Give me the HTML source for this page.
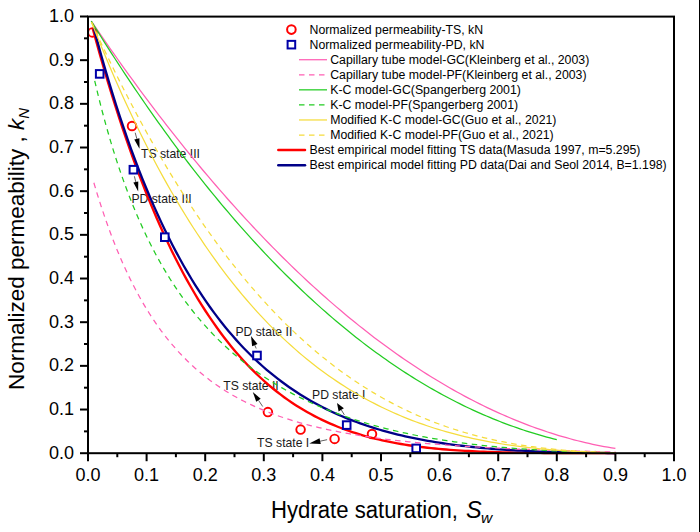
<!DOCTYPE html>
<html><head><meta charset="utf-8"><style>
html,body{margin:0;padding:0;background:#fff;width:700px;height:532px;overflow:hidden;}
svg{position:absolute;left:0;top:0;font-family:"Liberation Sans",sans-serif;}
</style></head><body>
<svg width="700" height="532" viewBox="0 0 700 532">
<rect x="0" y="0" width="700" height="532" fill="#fff"/>
<line x1="699.5" y1="0" x2="699.5" y2="532" stroke="#000" stroke-width="1"/>
<g>
<line x1="135.2" y1="132.7" x2="136.85" y2="138.85" stroke="#444" stroke-width="0.85"/><polygon points="139.5,148.7 134.25,139.55 139.46,138.15" fill="#000"/>
<line x1="134.4" y1="176.3" x2="135.81" y2="181.99" stroke="#444" stroke-width="0.85"/><polygon points="138.2,191.6 133.39,182.59 138.24,181.39" fill="#000"/>
<line x1="256.2" y1="348.5" x2="254.81" y2="345.14" stroke="#444" stroke-width="0.85"/><polygon points="251.0,335.9 257.50,344.04 252.13,346.25" fill="#000"/>
<line x1="262.7" y1="406.5" x2="258.47" y2="400.26" stroke="#444" stroke-width="0.85"/><polygon points="252.8,391.9 260.70,398.74 256.23,401.77" fill="#000"/>
<line x1="344.4" y1="414.9" x2="341.22" y2="409.79" stroke="#444" stroke-width="0.85"/><polygon points="337.0,403.0 343.86,408.16 338.59,411.43" fill="#000"/>
<line x1="327.1" y1="439.7" x2="320.16" y2="441.18" stroke="#444" stroke-width="0.85"/><polygon points="309.3,443.5 319.53,438.25 320.78,444.12" fill="#000"/>
</g>
<g font-size="12.2" fill="#1a1a1a">
<text x="141.0" y="158.4">TS state III</text>
<text x="131.4" y="202.6">PD state III</text>
<text x="235.4" y="335.7">PD state II</text>
<text x="223.2" y="390.4">TS state II</text>
<text x="312.0" y="399.0">PD state I</text>
<text x="257.1" y="447.2">TS state I</text>
</g>
<g>
<circle cx="92.4" cy="32.4" r="4.3" fill="none" stroke="#ff0000" stroke-width="1.9"/>
<circle cx="132" cy="126" r="4.3" fill="none" stroke="#ff0000" stroke-width="1.9"/>
<circle cx="267.9" cy="412.1" r="4.3" fill="none" stroke="#ff0000" stroke-width="1.9"/>
<circle cx="300.6" cy="429.6" r="4.3" fill="none" stroke="#ff0000" stroke-width="1.9"/>
<circle cx="334.6" cy="438.9" r="4.3" fill="none" stroke="#ff0000" stroke-width="1.9"/>
<circle cx="372" cy="434" r="4.3" fill="none" stroke="#ff0000" stroke-width="1.9"/>
</g>
<g>
<path d="M92.70,28.50 L96.46,42.25 L100.22,55.64 L103.98,68.68 L107.74,81.37 L111.50,93.73 L115.26,105.75 L119.02,117.44 L122.79,128.82 L126.55,139.89 L130.31,150.65 L134.07,161.12 L137.83,171.29 L141.59,181.17 L145.35,190.78 L149.11,200.11 L152.87,209.17 L156.63,217.97 L160.39,226.51 L164.15,234.80 L167.91,242.85 L171.67,250.66 L175.43,258.23 L179.19,265.57 L182.95,272.69 L186.71,279.60 L190.47,286.28 L194.23,292.76 L197.99,299.04 L201.75,305.12 L205.51,311.00 L209.27,316.69 L213.04,322.20 L216.80,327.53 L220.56,332.69 L224.32,337.67 L228.08,342.49 L231.84,347.14 L235.60,351.64 L239.36,355.98 L243.12,360.17 L246.88,364.22 L250.64,368.12 L254.40,371.88 L258.16,375.51 L261.92,379.01 L265.68,382.38 L269.44,385.62 L273.20,388.75 L276.96,391.76 L280.72,394.65 L284.48,397.44 L288.24,400.11 L292.00,402.69 L295.76,405.16 L299.52,407.53 L303.29,409.81 L307.05,412.00 L310.81,414.09 L314.57,416.10 L318.33,418.03 L322.09,419.88 L325.85,421.64 L329.61,423.33 L333.37,424.95 L337.13,426.50 L340.89,427.98 L344.65,429.39 L348.41,430.73 L352.17,432.02 L355.93,433.24 L359.69,434.41 L363.45,435.53 L367.21,436.58 L370.97,437.59 L374.73,438.55 L378.49,439.46 L382.25,440.32 L386.01,441.14 L389.77,441.92 L393.54,442.66 L397.30,443.35 L401.06,444.01 L404.82,444.64 L408.58,445.23 L412.34,445.78 L416.10,446.31 L419.86,446.80 L423.62,447.27 L427.38,447.71 L431.14,448.12 L434.90,448.51 L438.66,448.87 L442.42,449.21 L446.18,449.53 L449.94,449.82 L453.70,450.10 L457.46,450.36 L461.22,450.60 L464.98,450.83 L468.74,451.04 L472.50,451.23 L476.26,451.41 L480.02,451.57 L483.79,451.73 L487.55,451.87 L491.31,452.00 L495.07,452.12 L498.83,452.23 L502.59,452.33 L506.35,452.42 L510.11,452.51 L513.87,452.59 L517.63,452.66 L521.39,452.72 L525.15,452.78 L528.91,452.83 L532.67,452.87 L536.43,452.92 L540.19,452.95 L543.95,452.99 L547.71,453.02 L551.47,453.04 L555.23,453.06 L558.99,453.09 L562.75,453.10 L566.51,453.12 L570.27,453.13 L574.04,453.14 L577.80,453.15 L581.56,453.16 L585.32,453.17 L589.08,453.18 L592.84,453.18 L596.60,453.18 L600.36,453.19 L604.12,453.19 L607.88,453.19 L611.64,453.19 L615.40,453.20" fill="none" stroke="#ff0000" stroke-width="2.35"/>
<path d="M93.77,27.90 L97.52,41.89 L101.27,55.45 L105.02,68.57 L108.78,81.28 L112.53,93.59 L116.28,105.51 L120.04,117.05 L123.79,128.23 L127.54,139.06 L131.29,149.54 L135.05,159.70 L138.80,169.54 L142.55,179.06 L146.30,188.29 L150.06,197.22 L153.81,205.88 L157.56,214.26 L161.32,222.37 L165.07,230.23 L168.82,237.84 L172.57,245.22 L176.33,252.35 L180.08,259.27 L183.83,265.96 L187.58,272.44 L191.34,278.72 L195.09,284.80 L198.84,290.68 L202.60,296.38 L206.35,301.89 L210.10,307.23 L213.85,312.40 L217.61,317.41 L221.36,322.25 L225.11,326.94 L228.87,331.48 L232.62,335.87 L236.37,340.12 L240.12,344.23 L243.88,348.21 L247.63,352.07 L251.38,355.79 L255.13,359.40 L258.89,362.88 L262.64,366.26 L266.39,369.52 L270.15,372.68 L273.90,375.73 L277.65,378.68 L281.40,381.53 L285.16,384.29 L288.91,386.96 L292.66,389.53 L296.42,392.02 L300.17,394.43 L303.92,396.75 L307.67,399.00 L311.43,401.17 L315.18,403.27 L318.93,405.29 L322.68,407.25 L326.44,409.13 L330.19,410.95 L333.94,412.71 L337.70,414.41 L341.45,416.05 L345.20,417.62 L348.95,419.15 L352.71,420.62 L356.46,422.03 L360.21,423.40 L363.96,424.71 L367.72,425.98 L371.47,427.20 L375.22,428.38 L378.98,429.51 L382.73,430.60 L386.48,431.65 L390.23,432.66 L393.99,433.63 L397.74,434.56 L401.49,435.46 L405.25,436.32 L409.00,437.15 L412.75,437.95 L416.50,438.71 L420.26,439.45 L424.01,440.15 L427.76,440.83 L431.51,441.48 L435.27,442.10 L439.02,442.69 L442.77,443.26 L446.53,443.81 L450.28,444.33 L454.03,444.83 L457.78,445.31 L461.54,445.76 L465.29,446.20 L469.04,446.62 L472.79,447.01 L476.55,447.39 L480.30,447.75 L484.05,448.10 L487.81,448.42 L491.56,448.73 L495.31,449.03 L499.06,449.31 L502.82,449.58 L506.57,449.83 L510.32,450.07 L514.08,450.30 L517.83,450.51 L521.58,450.71 L525.33,450.90 L529.09,451.08 L532.84,451.25 L536.59,451.41 L540.34,451.56 L544.10,451.70 L547.85,451.83 L551.60,451.96 L555.36,452.07 L559.11,452.18 L562.86,452.28 L566.61,452.37 L570.37,452.46 L574.12,452.54 L577.87,452.61 L581.63,452.68 L585.38,452.74 L589.13,452.80 L592.88,452.85 L596.64,452.89 L600.39,452.94 L604.14,452.97 L607.89,453.01 L611.65,453.04 L615.40,453.07" fill="none" stroke="#000088" stroke-width="2.3"/>
</g>
<g>
<rect x="95.90" y="70.10" width="7.6" height="7.6" fill="#fff" stroke="#0000a8" stroke-width="2"/>
<rect x="129.60" y="165.90" width="7.6" height="7.6" fill="#fff" stroke="#0000a8" stroke-width="2"/>
<rect x="161.00" y="233.40" width="7.6" height="7.6" fill="#fff" stroke="#0000a8" stroke-width="2"/>
<rect x="253.20" y="351.70" width="7.6" height="7.6" fill="#fff" stroke="#0000a8" stroke-width="2"/>
<rect x="342.90" y="421.30" width="7.6" height="7.6" fill="#fff" stroke="#0000a8" stroke-width="2"/>
<rect x="412.40" y="444.60" width="7.6" height="7.6" fill="#fff" stroke="#0000a8" stroke-width="2"/>
</g>
<g>
<path d="M91.31,21.10 L95.08,26.66 L98.85,32.18 L102.62,37.67 L106.39,43.12 L110.16,48.53 L113.93,53.91 L117.70,59.25 L121.47,64.55 L125.24,69.82 L129.01,75.04 L132.78,80.24 L136.55,85.39 L140.32,90.51 L144.09,95.60 L147.86,100.65 L151.64,105.66 L155.41,110.63 L159.18,115.57 L162.95,120.47 L166.72,125.33 L170.49,130.16 L174.26,134.95 L178.03,139.71 L181.80,144.43 L185.57,149.11 L189.34,153.76 L193.11,158.37 L196.88,162.95 L200.65,167.48 L204.42,171.99 L208.19,176.45 L211.96,180.88 L215.73,185.28 L219.50,189.63 L223.27,193.96 L227.04,198.24 L230.81,202.49 L234.59,206.70 L238.36,210.88 L242.13,215.02 L245.90,219.13 L249.67,223.20 L253.44,227.23 L257.21,231.23 L260.98,235.19 L264.75,239.11 L268.52,243.00 L272.29,246.86 L276.06,250.68 L279.83,254.46 L283.60,258.20 L287.37,261.91 L291.14,265.59 L294.91,269.23 L298.68,272.83 L302.45,276.40 L306.22,279.93 L309.99,283.42 L313.76,286.88 L317.53,290.31 L321.31,293.70 L325.08,297.05 L328.85,300.37 L332.62,303.65 L336.39,306.89 L340.16,310.10 L343.93,313.28 L347.70,316.42 L351.47,319.52 L355.24,322.59 L359.01,325.62 L362.78,328.61 L366.55,331.58 L370.32,334.50 L374.09,337.39 L377.86,340.24 L381.63,343.06 L385.40,345.85 L389.17,348.59 L392.94,351.31 L396.71,353.98 L400.48,356.62 L404.26,359.23 L408.03,361.80 L411.80,364.33 L415.57,366.83 L419.34,369.30 L423.11,371.72 L426.88,374.12 L430.65,376.47 L434.42,378.80 L438.19,381.08 L441.96,383.33 L445.73,385.55 L449.50,387.73 L453.27,389.87 L457.04,391.98 L460.81,394.06 L464.58,396.10 L468.35,398.10 L472.12,400.07 L475.89,402.00 L479.66,403.90 L483.43,405.76 L487.20,407.58 L490.98,409.37 L494.75,411.13 L498.52,412.85 L502.29,414.53 L506.06,416.18 L509.83,417.79 L513.60,419.37 L517.37,420.91 L521.14,422.42 L524.91,423.89 L528.68,425.33 L532.45,426.73 L536.22,428.09 L539.99,429.42 L543.76,430.71 L547.53,431.97 L551.30,433.19 L555.07,434.38 L558.84,435.53 L562.61,436.65 L566.38,437.72 L570.15,438.77 L573.93,439.78 L577.70,440.75 L581.47,441.68 L585.24,442.58 L589.01,443.45 L592.78,444.28 L596.55,445.07 L600.32,445.82 L604.09,446.54 L607.86,447.23 L611.63,447.87 L615.40,448.49" fill="none" stroke="#ff5fb4" stroke-width="1.25"/>
<path d="M93.87,182.80 L97.62,195.23 L101.37,207.00 L105.12,218.14 L108.87,228.69 L112.63,238.69 L116.38,248.18 L120.13,257.17 L123.88,265.71 L127.63,273.82 L131.39,281.52 L135.14,288.84 L138.89,295.80 L142.64,302.42 L146.39,308.71 L150.15,314.71 L153.90,320.41 L157.65,325.85 L161.40,331.03 L165.15,335.97 L168.91,340.68 L172.66,345.17 L176.41,349.46 L180.16,353.55 L183.91,357.46 L187.67,361.20 L191.42,364.77 L195.17,368.18 L198.92,371.44 L202.67,374.56 L206.43,377.54 L210.18,380.40 L213.93,383.13 L217.68,385.75 L221.43,388.26 L225.19,390.66 L228.94,392.96 L232.69,395.17 L236.44,397.29 L240.20,399.32 L243.95,401.27 L247.70,403.14 L251.45,404.93 L255.20,406.66 L258.96,408.31 L262.71,409.90 L266.46,411.43 L270.21,412.90 L273.96,414.31 L277.72,415.67 L281.47,416.97 L285.22,418.23 L288.97,419.43 L292.72,420.60 L296.48,421.72 L300.23,422.79 L303.98,423.83 L307.73,424.83 L311.48,425.79 L315.24,426.72 L318.99,427.61 L322.74,428.47 L326.49,429.30 L330.24,430.11 L334.00,430.88 L337.75,431.62 L341.50,432.34 L345.25,433.03 L349.00,433.70 L352.76,434.35 L356.51,434.97 L360.26,435.58 L364.01,436.16 L367.76,436.72 L371.52,437.26 L375.27,437.79 L379.02,438.29 L382.77,438.78 L386.52,439.26 L390.28,439.71 L394.03,440.16 L397.78,440.58 L401.53,441.00 L405.29,441.40 L409.04,441.79 L412.79,442.16 L416.54,442.53 L420.29,442.88 L424.05,443.22 L427.80,443.55 L431.55,443.87 L435.30,444.17 L439.05,444.47 L442.81,444.76 L446.56,445.04 L450.31,445.32 L454.06,445.58 L457.81,445.84 L461.57,446.08 L465.32,446.32 L469.07,446.56 L472.82,446.78 L476.57,447.00 L480.33,447.21 L484.08,447.42 L487.83,447.62 L491.58,447.82 L495.33,448.00 L499.09,448.19 L502.84,448.37 L506.59,448.54 L510.34,448.71 L514.09,448.87 L517.85,449.03 L521.60,449.18 L525.35,449.33 L529.10,449.48 L532.85,449.62 L536.61,449.75 L540.36,449.89 L544.11,450.02 L547.86,450.14 L551.62,450.27 L555.37,450.39 L559.12,450.50 L562.87,450.62 L566.62,450.73 L570.38,450.83 L574.13,450.94 L577.88,451.04 L581.63,451.14 L585.38,451.24 L589.14,451.33 L592.89,451.43 L596.64,451.52 L600.39,451.61 L604.14,451.69 L607.90,451.78 L611.65,451.86 L615.40,451.94" fill="none" stroke="#ff5fb4" stroke-width="1.25" stroke-dasharray="5.5 4.5"/>
<path d="M91.27,21.10 L94.62,26.52 L97.97,31.90 L101.32,37.25 L104.67,42.55 L108.02,47.82 L111.37,53.05 L114.72,58.24 L118.06,63.39 L121.41,68.51 L124.76,73.59 L128.11,78.63 L131.46,83.63 L134.81,88.59 L138.16,93.52 L141.51,98.41 L144.86,103.26 L148.21,108.08 L151.56,112.86 L154.90,117.60 L158.25,122.31 L161.60,126.97 L164.95,131.61 L168.30,136.20 L171.65,140.76 L175.00,145.28 L178.35,149.77 L181.70,154.21 L185.05,158.63 L188.40,163.00 L191.75,167.34 L195.09,171.65 L198.44,175.91 L201.79,180.14 L205.14,184.34 L208.49,188.50 L211.84,192.62 L215.19,196.71 L218.54,200.77 L221.89,204.78 L225.24,208.76 L228.59,212.71 L231.93,216.62 L235.28,220.50 L238.63,224.34 L241.98,228.14 L245.33,231.92 L248.68,235.65 L252.03,239.35 L255.38,243.02 L258.73,246.65 L262.08,250.25 L265.43,253.81 L268.77,257.33 L272.12,260.83 L275.47,264.29 L278.82,267.71 L282.17,271.10 L285.52,274.46 L288.87,277.78 L292.22,281.07 L295.57,284.32 L298.92,287.54 L302.27,290.73 L305.62,293.88 L308.96,297.00 L312.31,300.08 L315.66,303.13 L319.01,306.15 L322.36,309.14 L325.71,312.09 L329.06,315.01 L332.41,317.89 L335.76,320.74 L339.11,323.56 L342.46,326.35 L345.80,329.10 L349.15,331.82 L352.50,334.51 L355.85,337.16 L359.20,339.78 L362.55,342.37 L365.90,344.93 L369.25,347.46 L372.60,349.95 L375.95,352.41 L379.30,354.84 L382.65,357.23 L385.99,359.60 L389.34,361.93 L392.69,364.23 L396.04,366.50 L399.39,368.74 L402.74,370.94 L406.09,373.12 L409.44,375.26 L412.79,377.37 L416.14,379.45 L419.49,381.50 L422.83,383.52 L426.18,385.50 L429.53,387.46 L432.88,389.38 L436.23,391.28 L439.58,393.14 L442.93,394.97 L446.28,396.77 L449.63,398.54 L452.98,400.28 L456.33,402.00 L459.68,403.68 L463.02,405.33 L466.37,406.95 L469.72,408.54 L473.07,410.10 L476.42,411.63 L479.77,413.13 L483.12,414.60 L486.47,416.04 L489.82,417.45 L493.17,418.83 L496.52,420.19 L499.86,421.51 L503.21,422.81 L506.56,424.07 L509.91,425.31 L513.26,426.52 L516.61,427.70 L519.96,428.85 L523.31,429.97 L526.66,431.06 L530.01,432.13 L533.36,433.17 L536.71,434.18 L540.05,435.16 L543.40,436.11 L546.75,437.04 L550.10,437.94 L553.45,438.81 L556.80,439.65" fill="none" stroke="#22cc22" stroke-width="1.25"/>
<path d="M94.71,80.80 L98.46,96.49 L102.20,111.23 L105.95,125.12 L109.70,138.23 L113.44,150.62 L117.19,162.34 L120.93,173.45 L124.68,184.00 L128.43,194.02 L132.17,203.55 L135.92,212.64 L139.66,221.29 L143.41,229.56 L147.16,237.46 L150.90,245.01 L154.65,252.23 L158.39,259.15 L162.14,265.78 L165.89,272.14 L169.63,278.25 L173.38,284.12 L177.12,289.75 L180.87,295.17 L184.62,300.39 L188.36,305.41 L192.11,310.25 L195.85,314.91 L199.60,319.40 L203.35,323.73 L207.09,327.92 L210.84,331.95 L214.58,335.85 L218.33,339.62 L222.08,343.26 L225.82,346.78 L229.57,350.18 L233.31,353.47 L237.06,356.65 L240.80,359.74 L244.55,362.72 L248.30,365.61 L252.04,368.41 L255.79,371.12 L259.53,373.75 L263.28,376.29 L267.03,378.76 L270.77,381.16 L274.52,383.48 L278.26,385.73 L282.01,387.91 L285.76,390.03 L289.50,392.08 L293.25,394.08 L296.99,396.01 L300.74,397.89 L304.49,399.71 L308.23,401.48 L311.98,403.20 L315.72,404.87 L319.47,406.49 L323.22,408.06 L326.96,409.59 L330.71,411.07 L334.45,412.51 L338.20,413.91 L341.95,415.27 L345.69,416.59 L349.44,417.87 L353.18,419.12 L356.93,420.32 L360.68,421.50 L364.42,422.64 L368.17,423.74 L371.91,424.82 L375.66,425.86 L379.41,426.87 L383.15,427.85 L386.90,428.81 L390.64,429.73 L394.39,430.63 L398.13,431.50 L401.88,432.35 L405.63,433.17 L409.37,433.97 L413.12,434.74 L416.86,435.49 L420.61,436.21 L424.36,436.92 L428.10,437.60 L431.85,438.26 L435.59,438.90 L439.34,439.52 L443.09,440.12 L446.83,440.70 L450.58,441.26 L454.32,441.80 L458.07,442.33 L461.82,442.84 L465.56,443.33 L469.31,443.80 L473.05,444.26 L476.80,444.71 L480.55,445.13 L484.29,445.55 L488.04,445.94 L491.78,446.33 L495.53,446.70 L499.28,447.05 L503.02,447.40 L506.77,447.72 L510.51,448.04 L514.26,448.34 L518.01,448.64 L521.75,448.92 L525.50,449.19 L529.24,449.44 L532.99,449.69 L536.74,449.92 L540.48,450.15 L544.23,450.36 L547.97,450.57 L551.72,450.76 L555.46,450.95 L559.21,451.12 L562.96,451.29 L566.70,451.45 L570.45,451.60 L574.19,451.74 L577.94,451.87 L581.69,452.00 L585.43,452.12 L589.18,452.23 L592.92,452.33 L596.67,452.43 L600.42,452.52 L604.16,452.60 L607.91,452.68 L611.65,452.75 L615.40,452.81" fill="none" stroke="#22cc22" stroke-width="1.25" stroke-dasharray="5.5 4.5"/>
<path d="M91.59,22.30 L95.36,31.80 L99.13,41.14 L102.90,50.32 L106.67,59.35 L110.44,68.21 L114.20,76.93 L117.97,85.49 L121.74,93.90 L125.51,102.16 L129.28,110.28 L133.05,118.25 L136.81,126.08 L140.58,133.78 L144.35,141.33 L148.12,148.74 L151.89,156.03 L155.66,163.17 L159.43,170.19 L163.19,177.08 L166.96,183.84 L170.73,190.47 L174.50,196.99 L178.27,203.37 L182.04,209.64 L185.80,215.79 L189.57,221.82 L193.34,227.73 L197.11,233.53 L200.88,239.22 L204.65,244.80 L208.41,250.27 L212.18,255.63 L215.95,260.88 L219.72,266.03 L223.49,271.07 L227.26,276.02 L231.02,280.86 L234.79,285.60 L238.56,290.25 L242.33,294.80 L246.10,299.25 L249.87,303.61 L253.63,307.88 L257.40,312.06 L261.17,316.15 L264.94,320.15 L268.71,324.07 L272.48,327.90 L276.25,331.64 L280.01,335.30 L283.78,338.89 L287.55,342.39 L291.32,345.81 L295.09,349.15 L298.86,352.42 L302.62,355.61 L306.39,358.73 L310.16,361.77 L313.93,364.75 L317.70,367.65 L321.47,370.48 L325.23,373.24 L329.00,375.94 L332.77,378.57 L336.54,381.13 L340.31,383.63 L344.08,386.07 L347.84,388.45 L351.61,390.76 L355.38,393.02 L359.15,395.21 L362.92,397.35 L366.69,399.43 L370.45,401.45 L374.22,403.42 L377.99,405.34 L381.76,407.20 L385.53,409.01 L389.30,410.77 L393.07,412.48 L396.83,414.14 L400.60,415.75 L404.37,417.31 L408.14,418.83 L411.91,420.30 L415.68,421.73 L419.44,423.11 L423.21,424.45 L426.98,425.75 L430.75,427.00 L434.52,428.22 L438.29,429.39 L442.05,430.52 L445.82,431.62 L449.59,432.68 L453.36,433.70 L457.13,434.69 L460.90,435.64 L464.66,436.56 L468.43,437.44 L472.20,438.29 L475.97,439.11 L479.74,439.90 L483.51,440.65 L487.27,441.38 L491.04,442.08 L494.81,442.74 L498.58,443.38 L502.35,444.00 L506.12,444.58 L509.89,445.14 L513.65,445.68 L517.42,446.18 L521.19,446.67 L524.96,447.13 L528.73,447.57 L532.50,447.99 L536.26,448.39 L540.03,448.76 L543.80,449.12 L547.57,449.45 L551.34,449.77 L555.11,450.07 L558.87,450.35 L562.64,450.61 L566.41,450.85 L570.18,451.08 L573.95,451.30 L577.72,451.50 L581.48,451.68 L585.25,451.85 L589.02,452.01 L592.79,452.16 L596.56,452.29 L600.33,452.41 L604.09,452.52 L607.86,452.62 L611.63,452.71 L615.40,452.79" fill="none" stroke="#f5dc3c" stroke-width="1.25"/>
<path d="M91.49,22.30 L95.26,30.52 L99.03,38.64 L102.80,46.65 L106.57,54.56 L110.33,62.36 L114.10,70.07 L117.87,77.67 L121.64,85.17 L125.41,92.57 L129.18,99.88 L132.95,107.08 L136.72,114.19 L140.49,121.19 L144.26,128.11 L148.03,134.92 L151.80,141.64 L155.56,148.27 L159.33,154.80 L163.10,161.24 L166.87,167.58 L170.64,173.83 L174.41,179.99 L178.18,186.07 L181.95,192.05 L185.72,197.94 L189.49,203.74 L193.26,209.45 L197.02,215.08 L200.79,220.62 L204.56,226.07 L208.33,231.44 L212.10,236.72 L215.87,241.92 L219.64,247.04 L223.41,252.07 L227.18,257.02 L230.95,261.89 L234.72,266.68 L238.49,271.39 L242.25,276.02 L246.02,280.57 L249.79,285.04 L253.56,289.44 L257.33,293.75 L261.10,297.99 L264.87,302.16 L268.64,306.25 L272.41,310.27 L276.18,314.21 L279.95,318.08 L283.72,321.88 L287.48,325.61 L291.25,329.26 L295.02,332.85 L298.79,336.37 L302.56,339.81 L306.33,343.19 L310.10,346.51 L313.87,349.75 L317.64,352.93 L321.41,356.05 L325.18,359.09 L328.94,362.08 L332.71,365.00 L336.48,367.86 L340.25,370.66 L344.02,373.39 L347.79,376.06 L351.56,378.68 L355.33,381.23 L359.10,383.73 L362.87,386.17 L366.64,388.55 L370.41,390.87 L374.17,393.14 L377.94,395.35 L381.71,397.51 L385.48,399.61 L389.25,401.66 L393.02,403.66 L396.79,405.61 L400.56,407.50 L404.33,409.34 L408.10,411.14 L411.87,412.88 L415.64,414.58 L419.40,416.23 L423.17,417.83 L426.94,419.38 L430.71,420.89 L434.48,422.35 L438.25,423.77 L442.02,425.14 L445.79,426.47 L449.56,427.76 L453.33,429.01 L457.10,430.21 L460.87,431.38 L464.63,432.50 L468.40,433.59 L472.17,434.64 L475.94,435.65 L479.71,436.62 L483.48,437.55 L487.25,438.46 L491.02,439.32 L494.79,440.15 L498.56,440.95 L502.33,441.71 L506.09,442.45 L509.86,443.15 L513.63,443.82 L517.40,444.45 L521.17,445.06 L524.94,445.65 L528.71,446.20 L532.48,446.72 L536.25,447.22 L540.02,447.69 L543.79,448.14 L547.56,448.56 L551.32,448.96 L555.09,449.34 L558.86,449.69 L562.63,450.02 L566.40,450.33 L570.17,450.62 L573.94,450.88 L577.71,451.13 L581.48,451.36 L585.25,451.58 L589.02,451.77 L592.79,451.95 L596.55,452.12 L600.32,452.27 L604.09,452.40 L607.86,452.52 L611.63,452.63 L615.40,452.73" fill="none" stroke="#f5dc3c" stroke-width="1.25" stroke-dasharray="5.5 4.5"/>
</g>
<g font-size="12.3" fill="#000">
<circle cx="291.4" cy="29.60" r="4.3" fill="none" stroke="#ff0000" stroke-width="2"/>
<rect x="287.60" y="40.86" width="7.6" height="7.6" fill="none" stroke="#0000a8" stroke-width="2"/>
<line x1="299" y1="59.72" x2="327" y2="59.72" stroke="#ff5fb4" stroke-width="1.25"/>
<line x1="299" y1="74.78" x2="327" y2="74.78" stroke="#ff5fb4" stroke-width="1.25" stroke-dasharray="5.5 4.5"/>
<line x1="299" y1="89.84" x2="327" y2="89.84" stroke="#22cc22" stroke-width="1.25"/>
<line x1="299" y1="104.90" x2="327" y2="104.90" stroke="#22cc22" stroke-width="1.25" stroke-dasharray="5.5 4.5"/>
<line x1="299" y1="119.96" x2="327" y2="119.96" stroke="#f5dc3c" stroke-width="1.25"/>
<line x1="299" y1="135.02" x2="327" y2="135.02" stroke="#f5dc3c" stroke-width="1.25" stroke-dasharray="5.5 4.5"/>
<line x1="278.3" y1="150.08" x2="305" stroke-linecap="round" y2="150.08" stroke="#ff0000" stroke-width="2.5"/>
<line x1="278.3" y1="165.14" x2="305" stroke-linecap="round" y2="165.14" stroke="#000088" stroke-width="2.5"/>
<text x="309.5" y="33.90">Normalized permeability-TS, kN</text>
<text x="309.5" y="48.96">Normalized permeability-PD, kN</text>
<text x="330.2" y="64.02">Capillary tube model-GC(Kleinberg et al., 2003)</text>
<text x="330.2" y="79.08">Capillary tube model-PF(Kleinberg et al., 2003)</text>
<text x="330.2" y="94.14">K-C model-GC(Spangerberg 2001)</text>
<text x="330.2" y="109.20">K-C model-PF(Spangerberg 2001)</text>
<text x="330.2" y="124.26">Modified K-C model-GC(Guo et al., 2021)</text>
<text x="330.2" y="139.32">Modified K-C model-PF(Guo et al., 2021)</text>
<text x="309.5" y="154.38">Best empirical model fitting TS data(Masuda 1997, m=5.295)</text>
<text x="309.5" y="169.44">Best empirical model fitting PD data(Dai and Seol 2014, B=1.198)</text>
</g>
<rect x="88" y="16.6" width="586" height="436.6" fill="none" stroke="#000" stroke-width="2"/>
<g stroke="#000" stroke-width="2">
<line x1="80" y1="453.20" x2="88" y2="453.20"/><line x1="88.00" y1="453.2" x2="88.00" y2="461.2"/><line x1="84" y1="431.37" x2="88" y2="431.37"/><line x1="117.30" y1="453.2" x2="117.30" y2="457.2"/><line x1="80" y1="409.53" x2="88" y2="409.53"/><line x1="146.60" y1="453.2" x2="146.60" y2="461.2"/><line x1="84" y1="387.69" x2="88" y2="387.69"/><line x1="175.90" y1="453.2" x2="175.90" y2="457.2"/><line x1="80" y1="365.86" x2="88" y2="365.86"/><line x1="205.20" y1="453.2" x2="205.20" y2="461.2"/><line x1="84" y1="344.02" x2="88" y2="344.02"/><line x1="234.50" y1="453.2" x2="234.50" y2="457.2"/><line x1="80" y1="322.19" x2="88" y2="322.19"/><line x1="263.80" y1="453.2" x2="263.80" y2="461.2"/><line x1="84" y1="300.36" x2="88" y2="300.36"/><line x1="293.10" y1="453.2" x2="293.10" y2="457.2"/><line x1="80" y1="278.52" x2="88" y2="278.52"/><line x1="322.40" y1="453.2" x2="322.40" y2="461.2"/><line x1="84" y1="256.69" x2="88" y2="256.69"/><line x1="351.70" y1="453.2" x2="351.70" y2="457.2"/><line x1="80" y1="234.85" x2="88" y2="234.85"/><line x1="381.00" y1="453.2" x2="381.00" y2="461.2"/><line x1="84" y1="213.01" x2="88" y2="213.01"/><line x1="410.30" y1="453.2" x2="410.30" y2="457.2"/><line x1="80" y1="191.18" x2="88" y2="191.18"/><line x1="439.60" y1="453.2" x2="439.60" y2="461.2"/><line x1="84" y1="169.34" x2="88" y2="169.34"/><line x1="468.90" y1="453.2" x2="468.90" y2="457.2"/><line x1="80" y1="147.51" x2="88" y2="147.51"/><line x1="498.20" y1="453.2" x2="498.20" y2="461.2"/><line x1="84" y1="125.68" x2="88" y2="125.68"/><line x1="527.50" y1="453.2" x2="527.50" y2="457.2"/><line x1="80" y1="103.84" x2="88" y2="103.84"/><line x1="556.80" y1="453.2" x2="556.80" y2="461.2"/><line x1="84" y1="82.00" x2="88" y2="82.00"/><line x1="586.10" y1="453.2" x2="586.10" y2="457.2"/><line x1="80" y1="60.17" x2="88" y2="60.17"/><line x1="615.40" y1="453.2" x2="615.40" y2="461.2"/><line x1="84" y1="38.33" x2="88" y2="38.33"/><line x1="644.70" y1="453.2" x2="644.70" y2="457.2"/><line x1="80" y1="16.50" x2="88" y2="16.50"/><line x1="674.00" y1="453.2" x2="674.00" y2="461.2"/>
</g>
<g font-size="18" fill="#000">
<text x="74" y="458.6" text-anchor="end">0.0</text>
<text x="74" y="414.9" text-anchor="end">0.1</text>
<text x="74" y="371.3" text-anchor="end">0.2</text>
<text x="74" y="327.6" text-anchor="end">0.3</text>
<text x="74" y="283.9" text-anchor="end">0.4</text>
<text x="74" y="240.2" text-anchor="end">0.5</text>
<text x="74" y="196.6" text-anchor="end">0.6</text>
<text x="74" y="152.9" text-anchor="end">0.7</text>
<text x="74" y="109.2" text-anchor="end">0.8</text>
<text x="74" y="65.6" text-anchor="end">0.9</text>
<text x="74" y="21.9" text-anchor="end">1.0</text>
<text x="88.0" y="481.3" text-anchor="middle">0.0</text>
<text x="146.6" y="481.3" text-anchor="middle">0.1</text>
<text x="205.2" y="481.3" text-anchor="middle">0.2</text>
<text x="263.8" y="481.3" text-anchor="middle">0.3</text>
<text x="322.4" y="481.3" text-anchor="middle">0.4</text>
<text x="381.0" y="481.3" text-anchor="middle">0.5</text>
<text x="439.6" y="481.3" text-anchor="middle">0.6</text>
<text x="498.2" y="481.3" text-anchor="middle">0.7</text>
<text x="556.8" y="481.3" text-anchor="middle">0.8</text>
<text x="615.4" y="481.3" text-anchor="middle">0.9</text>
<text x="674.0" y="481.3" text-anchor="middle">1.0</text>
</g>
<text x="271" y="518" font-size="23.5" textLength="187" lengthAdjust="spacingAndGlyphs">Hydrate saturation,</text><text x="466" y="518" font-size="23.5" font-style="italic">S</text><text x="481" y="523.2" font-size="15.5" font-style="italic">w</text>
<text transform="translate(24,390) rotate(-90)" font-size="22.5">Normalized permeability , <tspan font-style="italic">k</tspan><tspan font-style="italic" font-size="15" dy="5">N</tspan></text>
</svg>
</body></html>
